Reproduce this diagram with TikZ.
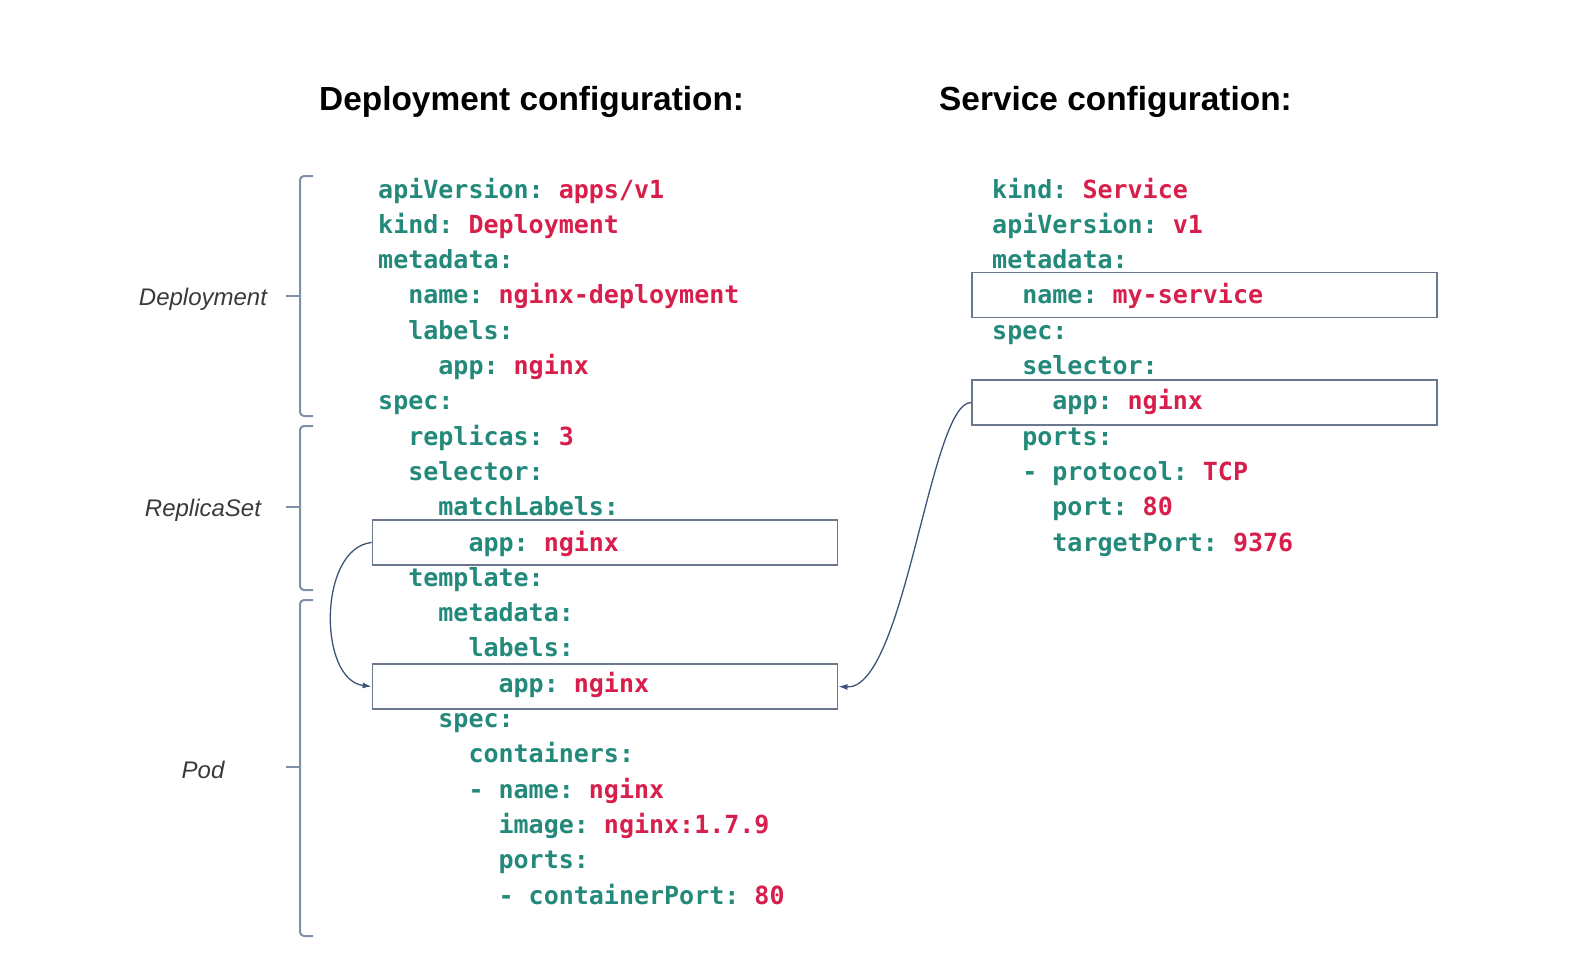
\documentclass[tikz,border=0pt]{standalone}
\usepackage{fontspec}
\setmainfont{Liberation Sans}
\setmonofont{DejaVu Sans Mono}
\usetikzlibrary{positioning,arrows.meta}

\definecolor{keyteal}{HTML}{23897A}
\definecolor{valred}{HTML}{D81E4B}
\definecolor{boxgray}{HTML}{6A778D}
\definecolor{brgray}{HTML}{7F8FA8}
\definecolor{linkblue}{HTML}{3D5478}
\definecolor{partgray}{HTML}{3A3A3A}

\newcommand{\codefont}{\ttfamily\bfseries\fontsize{25}{30}\selectfont}
\newcommand{\kv}[2]{\textcolor{keyteal}{#1:}\ifx&#2&\else\ \textcolor{valred}{#2}\fi}
\newcommand{\dk}[2]{\textcolor{keyteal}{- #1:}\ \textcolor{valred}{#2}}

\tikzset{
  codeline/.style={anchor=base west, inner sep=0pt, font=\codefont},
  selbox/.style={draw=boxgray, line width=1.8pt, minimum width=465pt, minimum height=45pt, inner sep=0pt},
  bracket/.style={draw=brgray, line width=2pt, rounded corners=4pt},
  link/.style={draw=linkblue, line width=1.3pt, -{Latex[length=9pt,width=6pt]}},
  part/.style={font=\fontsize{24}{28}\selectfont\itshape, text=partgray},
  heading/.style={anchor=base west, inner sep=0pt, font=\fontsize{33.4}{38}\selectfont\bfseries}
}

\begin{document}
\begin{tikzpicture}[x=1pt, y=-1pt]
  \useasboundingbox (0,0) rectangle (1570,961);

  % headings
  \node[heading] (dhead) at (319,110) {Deployment configuration:};
  \node[heading] (shead) at (939,110) {Service configuration:};

  % selector boxes
  \node[selbox] (dsel) at (605,542.5) {};
  \node[selbox] (dpod) at (605,686.5) {};
  \node[selbox] (sname) at (1204.5,295) {};
  \node[selbox] (ssel) at (1204.5,402.5) {};

  % deployment yaml
  \foreach \row/\dent/\txt in {
      0/0/{\kv{apiVersion}{apps/v1}},
      1/0/{\kv{kind}{Deployment}},
      2/0/{\kv{metadata}{}},
      3/2/{\kv{name}{nginx-deployment}},
      4/2/{\kv{labels}{}},
      5/4/{\kv{app}{nginx}},
      6/0/{\kv{spec}{}},
      7/2/{\kv{replicas}{3}},
      8/2/{\kv{selector}{}},
      9/4/{\kv{matchLabels}{}},
      10/6/{\kv{app}{nginx}},
      11/2/{\kv{template}{}},
      12/4/{\kv{metadata}{}},
      13/6/{\kv{labels}{}},
      14/8/{\kv{app}{nginx}},
      15/4/{\kv{spec}{}},
      16/6/{\kv{containers}{}},
      17/6/{\dk{name}{nginx}},
      18/8/{\kv{image}{nginx:1.7.9}},
      19/8/{\kv{ports}{}},
      20/8/{\dk{containerPort}{80}}}
    \node[codeline] (d\row) at (378+15.05*\dent, 198+35.3*\row) {\txt};

  % service yaml
  \foreach \row/\dent/\txt in {
      0/0/{\kv{kind}{Service}},
      1/0/{\kv{apiVersion}{v1}},
      2/0/{\kv{metadata}{}},
      3/2/{\kv{name}{my-service}},
      4/0/{\kv{spec}{}},
      5/2/{\kv{selector}{}},
      6/4/{\kv{app}{nginx}},
      7/2/{\kv{ports}{}},
      8/2/{\dk{protocol}{TCP}},
      9/4/{\kv{port}{80}},
      10/4/{\kv{targetPort}{9376}}}
    \node[codeline] (s\row) at (992+15.05*\dent, 198+35.3*\row) {\txt};

  % brackets
  \foreach \name/\top/\bot/\mid/\lbl in {dep/176/416/296/Deployment, rs/426/590/507/ReplicaSet, pod/600/936/767/Pod} {
    \draw[bracket] (313,\top) -- (300,\top) -- (300,\bot) -- (313,\bot);
    \coordinate (\name tip) at (286,\mid);
    \draw[draw=brgray, line width=2pt] (300,\mid) -- (\name tip);
    \node[part] (\name lbl) at (203,\mid+3) {\lbl};
  }

  % label links
  \draw[link] (dsel.west) .. controls (318,548) and (318,680) .. (dpod.west);
  \draw[link] (ssel.west) .. controls (930,402) and (905,690) .. (dpod.east);
\end{tikzpicture}
\end{document}
